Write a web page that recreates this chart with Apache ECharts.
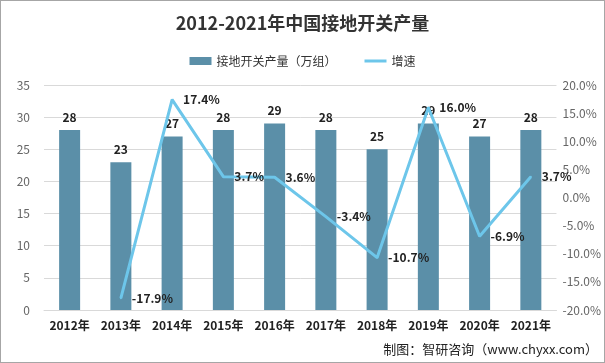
<!DOCTYPE html>
<html><head><meta charset="utf-8">
<script src="https://cdn.jsdelivr.net/npm/echarts@6/dist/echarts.min.js"></script>
<style>html,body{margin:0;padding:0;background:#fff}#c{width:603px;height:361px;border:1px solid #a6a6a6}</style>
</head><body><div id="c"></div>
<script>
const categories = ['2012年','2013年','2014年','2015年','2016年','2017年','2018年','2019年','2020年','2021年'];
const output = [28,23,27,28,29,28,25,29,27,28];
const growth = ['-',-17.9,17.4,3.7,3.6,-3.4,-10.7,16.0,-6.9,3.7];
const chart = echarts.init(document.getElementById('c'));
const font = '"Noto Sans CJK SC", "Noto Sans", sans-serif';
chart.setOption({
  animation:false,
  textStyle:{fontFamily:font},
  title:{text:'2012-2021年中国接地开关产量',left:'center',top:8,textStyle:{fontSize:18,fontWeight:'bold',color:'#333',fontFamily:font}},
  legend:{top:49,left:'center',itemGap:28,itemWidth:22,itemHeight:8,textStyle:{fontSize:12,color:'#333'},
    data:[{name:'接地开关产量（万组）',icon:'rect'},{name:'增速',icon:'path://M0,0H22V3H0Z',itemStyle:{color:'#6dc6ea',opacity:1}}]},
  grid:{left:43,right:46,top:84,bottom:52},
  xAxis:{type:'category',data:categories,axisTick:{show:false},axisLine:{lineStyle:{color:'#d9d9d9'}},
    axisLabel:{interval:0,fontSize:12,fontWeight:'bold',color:'#222',margin:9}},
  yAxis:[
    {type:'value',min:0,max:35,interval:5,axisLabel:{color:'#666',fontSize:12,margin:14},splitLine:{lineStyle:{color:'#d9d9d9'}},axisLine:{show:false}},
    {type:'value',min:-20,max:20,interval:5,axisLabel:{color:'#666',fontSize:12,margin:6,formatter:v=>v.toFixed(1)+'%'},splitLine:{show:false},axisLine:{show:false}}
  ],
  series:[
    {name:'接地开关产量（万组）',type:'bar',data:output,barWidth:21,itemStyle:{color:'#5b8fa8'},
      label:{show:true,position:'top',fontWeight:'bold',fontSize:12,color:'#222',distance:7}},
    {name:'增速',type:'line',yAxisIndex:1,data:growth,symbol:'circle',symbolSize:2,showSymbol:true,
      lineStyle:{color:'#6dc6ea',width:3},itemStyle:{color:'#6dc6ea'},
      labelLayout:{hideOverlap:false},
      label:{show:true,position:'right',fontWeight:'bold',fontSize:12,color:'#222',distance:10,
        formatter:function(p){var v=Array.isArray(p.value)?p.value[p.value.length-1]:p.value;return (typeof v==='number')?v.toFixed(1)+'%':'';}}}
  ],
  graphic:[{type:'text',right:6,bottom:6,style:{text:'制图：智研咨询（www.chyxx.com）',fontSize:13,fill:'#222',fontFamily:font}}]
});
</script></body></html>
